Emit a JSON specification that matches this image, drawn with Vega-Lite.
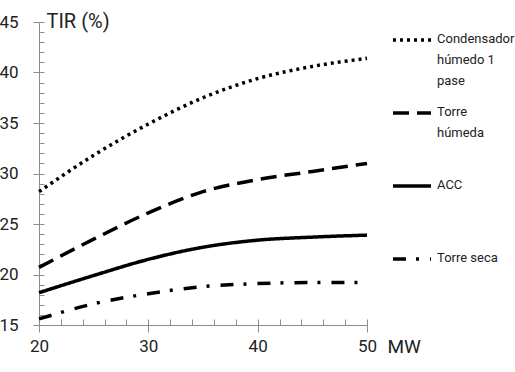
{
  "$schema": "https://vega.github.io/schema/vega-lite/v6.json",
  "width": 328,
  "height": 303,
  "autosize": "none",
  "padding": {"left": 39, "top": 22, "right": 148, "bottom": 47},
  "background": "white",
  "config": {
    "view": {"stroke": null},
    "font": "Roboto",
    "style": {"guide-label": {"lineHeight": 21}}
  },
  "data": {
    "values": [
      {"serie": "Condensador húmedo 1 pase", "mw": 20, "tir": 28.2},
      {"serie": "Condensador húmedo 1 pase", "mw": 25, "tir": 31.8},
      {"serie": "Condensador húmedo 1 pase", "mw": 30, "tir": 34.9},
      {"serie": "Condensador húmedo 1 pase", "mw": 35, "tir": 37.5},
      {"serie": "Condensador húmedo 1 pase", "mw": 40, "tir": 39.4},
      {"serie": "Condensador húmedo 1 pase", "mw": 45, "tir": 40.6},
      {"serie": "Condensador húmedo 1 pase", "mw": 50, "tir": 41.4},
      {"serie": "Torre húmeda", "mw": 20, "tir": 20.7},
      {"serie": "Torre húmeda", "mw": 25, "tir": 23.5},
      {"serie": "Torre húmeda", "mw": 30, "tir": 26.1},
      {"serie": "Torre húmeda", "mw": 35, "tir": 28.2},
      {"serie": "Torre húmeda", "mw": 40, "tir": 29.4},
      {"serie": "Torre húmeda", "mw": 45, "tir": 30.2},
      {"serie": "Torre húmeda", "mw": 50, "tir": 31.0},
      {"serie": "ACC", "mw": 20, "tir": 18.2},
      {"serie": "ACC", "mw": 25, "tir": 19.9},
      {"serie": "ACC", "mw": 30, "tir": 21.5},
      {"serie": "ACC", "mw": 35, "tir": 22.7},
      {"serie": "ACC", "mw": 40, "tir": 23.4},
      {"serie": "ACC", "mw": 45, "tir": 23.7},
      {"serie": "ACC", "mw": 50, "tir": 23.9},
      {"serie": "Torre seca", "mw": 20, "tir": 15.6},
      {"serie": "Torre seca", "mw": 25, "tir": 17.1},
      {"serie": "Torre seca", "mw": 30, "tir": 18.1},
      {"serie": "Torre seca", "mw": 35, "tir": 18.8},
      {"serie": "Torre seca", "mw": 40, "tir": 19.1},
      {"serie": "Torre seca", "mw": 45, "tir": 19.2},
      {"serie": "Torre seca", "mw": 50, "tir": 19.2}
    ]
  },
  "resolve": {"axis": {"x": "independent", "y": "independent"}},
  "layer": [
    {
      "mark": {"type": "line", "interpolate": "monotone", "color": "black", "strokeWidth": 3.5},
      "encoding": {
        "x": {
          "field": "mw",
          "type": "quantitative",
          "scale": {"domain": [20, 50], "nice": false},
          "axis": {
            "orient": "bottom",
            "values": [20, 30, 40, 50],
            "grid": false,
            "domainColor": "#8c8c8c",
            "tickColor": "#8c8c8c",
            "tickSize": 7,
            "labelFontSize": 17,
            "labelColor": "#222222",
            "labelPadding": 6,
            "labelFlush": false,
            "title": "MW",
            "titleFontSize": 19,
            "titleFontWeight": "normal",
            "titleColor": "#222222",
            "titleAlign": "left",
            "titleBaseline": "middle",
            "titleX": 348,
            "titleY": 21
          }
        },
        "y": {
          "field": "tir",
          "type": "quantitative",
          "scale": {"domain": [15, 45], "nice": false},
          "axis": {
            "orient": "left",
            "values": [15, 20, 25, 30, 35, 40, 45],
            "grid": false,
            "domainColor": "#8c8c8c",
            "tickColor": "#8c8c8c",
            "tickSize": 6,
            "labelFontSize": 17,
            "labelColor": "#222222",
            "labelPadding": 15,
            "labelFlush": false,
            "title": "TIR (%)",
            "titleFontSize": 20,
            "titleFontWeight": "normal",
            "titleColor": "#222222",
            "titleAngle": 0,
            "titleAlign": "left",
            "titleBaseline": "middle",
            "titleX": 7,
            "titleY": -1
          }
        },
        "strokeDash": {
          "field": "serie",
          "type": "nominal",
          "sort": ["Condensador húmedo 1 pase", "Torre húmeda", "ACC", "Torre seca"],
          "scale": {
            "domain": ["Condensador húmedo 1 pase", "Torre húmeda", "ACC", "Torre seca"],
            "range": [[3, 4], [16, 8], [1, 0], [13, 10, 3, 11]]
          },
          "legend": {
            "title": null,
            "orient": "none",
            "legendX": 352,
            "legendY": -3,
            "symbolType": "stroke",
            "symbolSize": 1444,
            "symbolStrokeWidth": 3.5,
            "symbolStrokeColor": "black",
            "labelFontSize": 13,
            "labelColor": "#222222",
            "labelOffset": 4,
            "labelLimit": 200,
            "labelBaseline": "top",
            "gridAlign": "all",
            "rowPadding": 4,
            "labelExpr": "datum.value === 'Condensador húmedo 1 pase' ? ['Condensador', 'húmedo 1', 'pase'] : datum.value === 'Torre húmeda' ? ['Torre', 'húmeda'] : datum.value",
            "encode": {"labels": {"update": {"dy": {"value": -7}}}}
          }
        }
      }
    },
    {
      "mark": {"type": "line", "strokeOpacity": 0},
      "encoding": {
        "x": {
          "field": "mw",
          "type": "quantitative",
          "scale": {"domain": [20, 50], "nice": false},
          "axis": {
            "orient": "bottom",
            "values": [20, 22, 24, 26, 28, 30, 32, 34, 36, 38, 40, 42, 44, 46, 48, 50],
            "labels": false,
            "domain": false,
            "grid": false,
            "title": null,
            "tickColor": "#8c8c8c",
            "tickSize": -6
          }
        },
        "y": {
          "field": "tir",
          "type": "quantitative",
          "scale": {"domain": [15, 45], "nice": false},
          "axis": {
            "orient": "left",
            "values": [15, 16, 17, 18, 19, 20, 21, 22, 23, 24, 25, 26, 27, 28, 29, 30, 31, 32, 33, 34, 35, 36, 37, 38, 39, 40, 41, 42, 43, 44, 45],
            "labels": false,
            "domain": false,
            "grid": false,
            "title": null,
            "tickColor": "#8c8c8c",
            "tickSize": -5
          }
        },
        "detail": {"field": "serie", "type": "nominal"}
      }
    }
  ]
}
